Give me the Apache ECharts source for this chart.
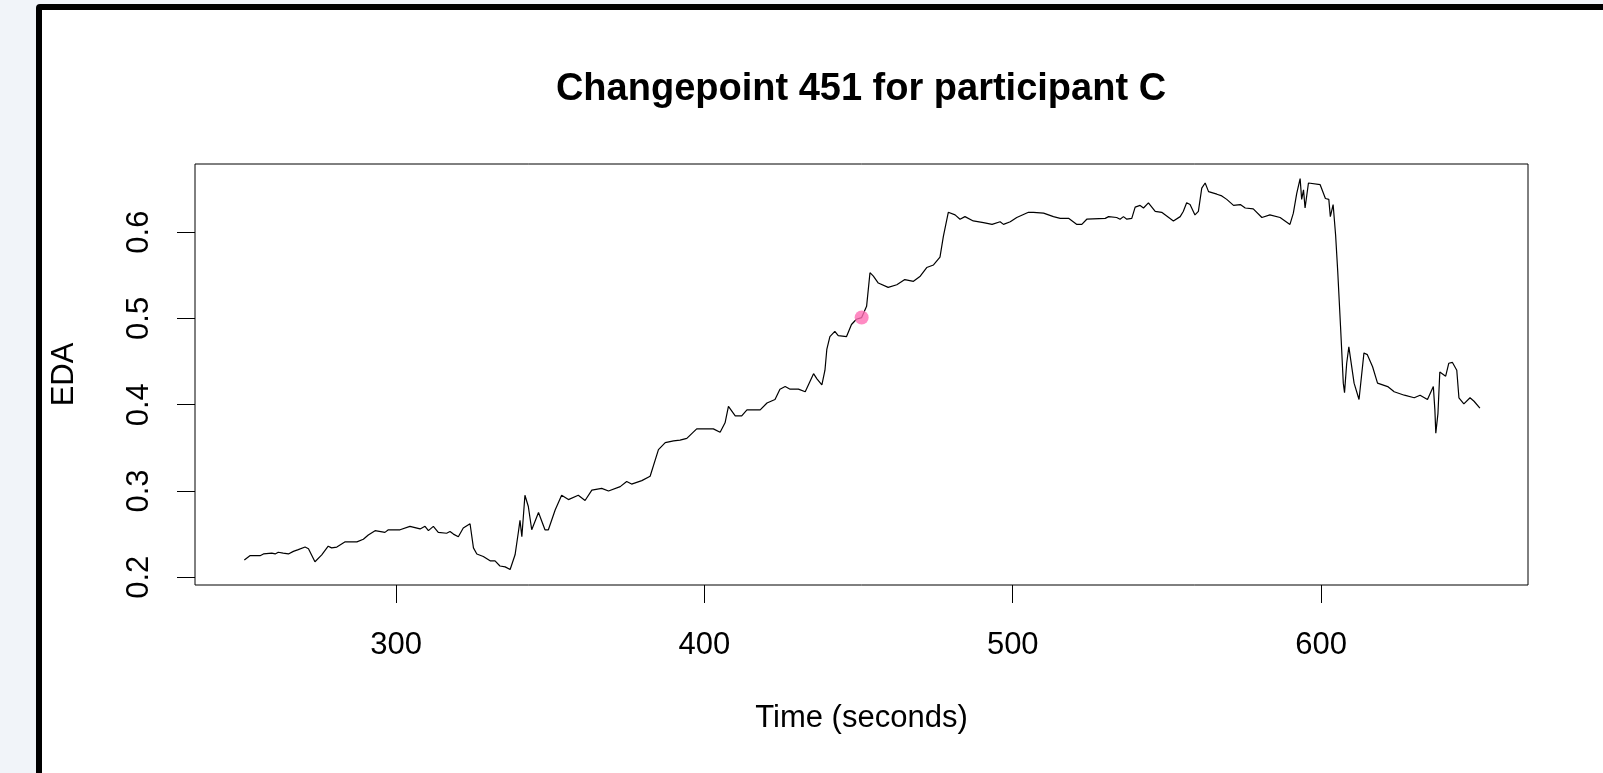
<!DOCTYPE html>
<html>
<head>
<meta charset="utf-8">
<script src="https://cdn.jsdelivr.net/npm/echarts@6/dist/echarts.min.js"></script>
<style>
  html, body { margin: 0; padding: 0; width: 1603px; height: 773px; overflow: hidden; background: #f1f4f9; }
  #frame { position: absolute; left: 36px; top: 4px; width: 1640px; height: 820px; background: #fff; border: 6px solid #000; border-radius: 4px; box-sizing: border-box; }
  #chart { position: absolute; left: 0; top: 0; width: 1603px; height: 773px; }
</style>
</head>
<body>
<div id="frame"></div>
<div id="chart"></div>
<script>
// ---- data ----
const times = [250.8,252.6,255.9,257.0,259.7,260.8,261.8,263.4,265.1,266.7,268.3,270.5,271.6,273.7,275.9,278.0,279.1,280.8,283.5,287.3,289.4,291.0,293.2,296.4,297.5,301.3,304.5,307.8,309.4,310.5,312.1,313.7,316.4,317.5,318.6,320.2,321.8,324.0,325.1,326.2,328.3,330.5,332.1,333.7,335.4,337.0,338.6,339.7,340.2,340.8,341.8,342.9,344.0,346.2,348.3,349.4,351.6,353.7,355.9,359.1,361.3,363.5,366.7,368.9,372.7,374.8,376.4,379.7,382.4,385.1,387.3,390.0,392.1,394.3,397.5,402.9,405.1,406.7,407.8,410.0,412.1,413.8,418.1,420.3,422.9,424.5,426.2,427.8,430.5,432.7,435.4,436.5,438.1,439.1,439.7,440.7,442.3,443.4,446.1,447.7,449.3,451.0,452.6,453.7,454.8,456.4,459.6,462.4,465.0,467.8,470.0,472.1,474.3,476.4,477.5,479.1,481.3,482.9,484.5,487.2,490.5,493.3,495.9,497.0,499.2,501.3,505.1,506.7,510.0,513.2,515.4,518.1,520.8,522.4,524.0,530.0,531.1,533.7,534.8,535.9,537.0,538.6,539.7,541.3,542.4,544.0,546.2,548.3,552.1,554.3,555.3,556.4,557.5,559.1,560.2,561.3,562.4,563.5,566.2,567.8,569.4,571.6,573.8,575.4,578.0,580.8,583.4,586.7,589.9,591.0,592.1,593.2,593.7,594.3,594.8,595.9,596.5,599.7,601.4,602.5,603.0,603.9,604.7,605.4,606.3,607.2,607.6,608.3,609.0,610.7,612.3,613.9,615.0,616.7,618.3,621.6,623.7,627.0,630.2,632.1,634.5,636.4,636.9,637.2,637.9,638.5,640.4,641.4,642.6,644.0,644.7,646.3,648.3,649.6,651.5];
const eda = [0.220,0.225,0.225,0.227,0.228,0.227,0.229,0.228,0.227,0.230,0.232,0.235,0.233,0.218,0.226,0.236,0.234,0.235,0.241,0.241,0.244,0.249,0.254,0.252,0.255,0.255,0.259,0.256,0.259,0.254,0.259,0.252,0.251,0.253,0.250,0.247,0.257,0.262,0.234,0.227,0.224,0.219,0.219,0.213,0.212,0.209,0.226,0.253,0.266,0.247,0.295,0.282,0.255,0.275,0.255,0.255,0.278,0.295,0.290,0.295,0.289,0.301,0.303,0.300,0.305,0.311,0.308,0.312,0.317,0.348,0.356,0.358,0.359,0.361,0.372,0.372,0.368,0.379,0.398,0.387,0.387,0.394,0.394,0.402,0.406,0.418,0.421,0.418,0.418,0.415,0.436,0.430,0.423,0.440,0.464,0.479,0.485,0.480,0.479,0.493,0.499,0.501,0.514,0.553,0.549,0.541,0.536,0.539,0.545,0.543,0.549,0.559,0.562,0.571,0.595,0.623,0.620,0.615,0.618,0.613,0.611,0.609,0.612,0.609,0.612,0.617,0.623,0.623,0.622,0.618,0.616,0.616,0.609,0.609,0.615,0.616,0.618,0.617,0.615,0.618,0.615,0.616,0.629,0.631,0.628,0.634,0.624,0.623,0.613,0.618,0.624,0.634,0.632,0.620,0.624,0.651,0.657,0.647,0.644,0.642,0.638,0.631,0.632,0.628,0.627,0.617,0.620,0.617,0.609,0.622,0.645,0.662,0.638,0.649,0.628,0.657,0.659,0.655,0.639,0.638,0.618,0.632,0.597,0.554,0.491,0.425,0.414,0.448,0.467,0.425,0.406,0.460,0.458,0.444,0.425,0.421,0.415,0.411,0.408,0.411,0.406,0.421,0.394,0.367,0.390,0.438,0.433,0.448,0.449,0.440,0.408,0.401,0.408,0.404,0.396];
const changepointTime = [451];
const changepointValue = [0.501];
const xTicks = [300, 400, 500, 600];
const yTicks = [0.2, 0.3, 0.4, 0.5, 0.6];
const titleText = 'Changepoint 451 for participant C';
const xName = 'Time (seconds)';
const yName = 'EDA';

// ---- chart ----
const FONT = '"Liberation Sans", Arial, sans-serif';
const chart = echarts.init(document.getElementById('chart'), null, { renderer: 'canvas' });
const lineData = times.map((t, i) => [t, eda[i]]);
const cpData = changepointTime.map((t, i) => [t, changepointValue[i]]);

chart.setOption({
  backgroundColor: 'transparent',
  animation: false,
  title: {
    text: titleText,
    left: 861,
    textAlign: 'center',
    top: 70,
    padding: 0,
    textStyle: { fontFamily: FONT, fontWeight: 'bold', fontSize: 38, color: '#000', lineHeight: 40 }
  },
  grid: {
    left: 195, right: 75, top: 164, bottom: 188,
    show: true, borderColor: '#000', borderWidth: 1, backgroundColor: 'transparent'
  },
  xAxis: {
    type: 'value', min: 234.8, max: 667.1,
    name: xName, nameLocation: 'middle', nameGap: 118,
    nameTextStyle: { fontFamily: FONT, fontSize: 31, color: '#000' },
    axisLine: { show: false },
    splitLine: { show: false },
    axisTick: { show: true, length: 18, customValues: xTicks, lineStyle: { color: '#000', width: 1 } },
    axisLabel: { customValues: xTicks, margin: 45, fontFamily: FONT, fontSize: 31, color: '#000' }
  },
  yAxis: {
    type: 'value', min: 0.191, max: 0.679,
    name: yName, nameLocation: 'middle', nameGap: 115, nameRotate: 90,
    nameTextStyle: { fontFamily: FONT, fontSize: 31, color: '#000' },
    axisLine: { show: false },
    splitLine: { show: false },
    axisTick: { show: true, length: 18, customValues: yTicks, lineStyle: { color: '#000', width: 1 } },
    axisLabel: { customValues: yTicks, rotate: 90, margin: 40, fontFamily: FONT, fontSize: 31, color: '#000',
      formatter: v => v.toFixed(1) }
  },
  series: [
    {
      type: 'line', data: lineData, showSymbol: false, symbol: 'none',
      lineStyle: { color: '#000', width: 1.2 }, z: 2
    },
    {
      type: 'scatter', data: cpData, symbol: 'circle', symbolSize: 14,
      itemStyle: { color: '#ff6eb4' }, z: 3
    }
  ]
});
</script>
</body>
</html>
